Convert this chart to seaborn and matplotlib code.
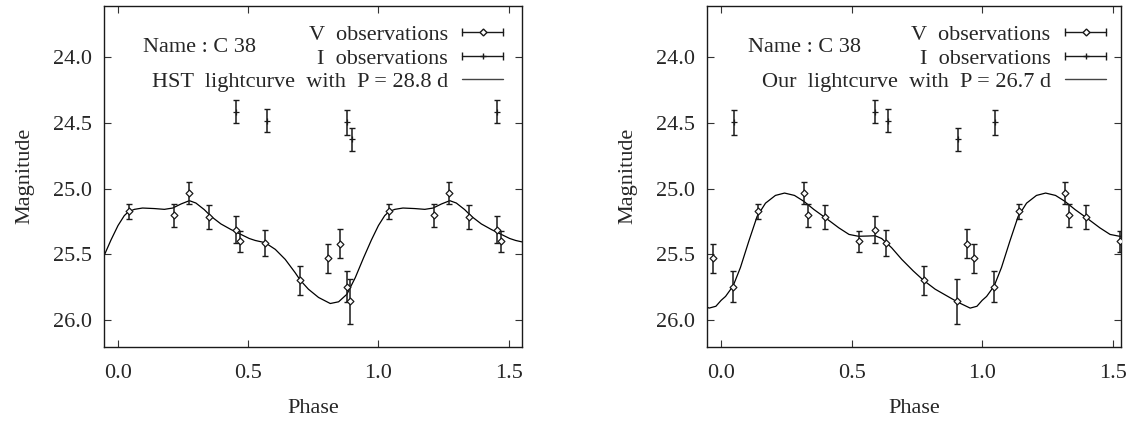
import numpy as np
import pandas as pd
import seaborn as sns
import matplotlib.pyplot as plt
from matplotlib.lines import Line2D
from matplotlib.legend_handler import HandlerLine2D, HandlerTuple

# V band observations (same magnitudes folded with two periods)
v_mag = [25.172, 25.202, 25.033, 25.217, 25.311, 25.399, 25.412, 25.697, 25.530, 25.420, 25.747, 25.858]
v_err = [0.058, 0.088, 0.081, 0.090, 0.100, 0.080, 0.100, 0.110, 0.110, 0.110, 0.117, 0.170]
v_phase_hst = [0.041, 0.213, 0.271, 0.348, 0.454, 0.469, 0.565, 0.697, 0.808, 0.853, 0.879, 0.891]
v_phase_our = [0.143, 0.331, 0.316, 0.399, 0.591, 0.528, 0.632, 0.776, 0.970, 0.943, 0.045, 0.904]

# I band observations
i_mag = [24.414, 24.482, 24.495, 24.624]
i_err = [0.088, 0.088, 0.097, 0.088]
i_phase_hst = [0.454, 0.572, 0.881, 0.898]
i_phase_our = [0.591, 0.638, 0.051, 0.908]

# model lightcurves, one cycle each
hst_curve_phase = [0.000, 0.024, 0.040, 0.063, 0.094, 0.139, 0.178, 0.210, 0.242, 0.274, 0.299,
                   0.331, 0.357, 0.395, 0.434, 0.472, 0.504, 0.527, 0.565, 0.604, 0.642, 0.680,
                   0.700, 0.731, 0.770, 0.815, 0.847, 0.879, 0.911, 0.943, 0.973, 1.000]
hst_curve_mag = [25.280, 25.205, 25.175, 25.157, 25.147, 25.151, 25.157, 25.147, 25.116, 25.091, 25.109,
                 25.159, 25.210, 25.268, 25.311, 25.348, 25.379, 25.394, 25.411, 25.462, 25.538, 25.639,
                 25.697, 25.765, 25.828, 25.874, 25.861, 25.803, 25.677, 25.525, 25.390, 25.280]
our_curve_phase = [0.000, 0.017, 0.046, 0.074, 0.106, 0.138, 0.170, 0.208, 0.243, 0.281, 0.317,
                   0.356, 0.400, 0.451, 0.490, 0.526, 0.564, 0.590, 0.615, 0.653, 0.692, 0.736,
                   0.775, 0.820, 0.871, 0.909, 0.954, 0.980, 1.000]
our_curve_mag = [25.850, 25.820, 25.740, 25.600, 25.400, 25.210, 25.110, 25.051, 25.033, 25.051, 25.096,
                 25.159, 25.222, 25.298, 25.348, 25.362, 25.360, 25.358, 25.379, 25.449, 25.538, 25.626,
                 25.697, 25.765, 25.823, 25.866, 25.909, 25.895, 25.850]

panels = [
    dict(v_phase=v_phase_hst, i_phase=i_phase_hst, cph=hst_curve_phase, cmag=hst_curve_mag,
         label="HST  lightcurve  with  P = 28.8 d", xlim=(-0.052, 1.553),
         pos=[0.0928, 0.1842, 0.3712, 0.8028], name_x=0.093, leg_x=0.954),
    dict(v_phase=v_phase_our, i_phase=i_phase_our, cph=our_curve_phase, cmag=our_curve_mag,
         label="Our  lightcurve  with  P = 26.7 d", xlim=(-0.054, 1.532),
         pos=[0.6279, 0.1842, 0.3677, 0.8028], name_x=0.100, leg_x=0.964),
]

sns.set_theme(style="ticks")
plt.rcParams['font.family'] = ['Liberation Serif', 'DejaVu Serif']
plt.rcParams['font.size'] = 16


def fold(phase, mag, err, lo, hi):
    rows = []
    for s in (-1, 0, 1):
        for p, m, e in zip(phase, mag, err):
            if lo <= p + s <= hi:
                rows.append((p + s, m, e))
    return pd.DataFrame(rows, columns=["phase", "mag", "err"])


fig = plt.figure(figsize=(11.26, 4.25), dpi=100)

for pn in panels:
    ax = fig.add_axes(pn["pos"])
    lo, hi = pn["xlim"]

    curve = pd.DataFrame({"phase": pn["cph"], "mag": pn["cmag"]})
    curve = pd.concat([curve.assign(phase=curve.phase + s) for s in (-1, 0, 1)])
    curve = curve.drop_duplicates("phase").sort_values("phase")
    sns.lineplot(data=curve, x="phase", y="mag", ax=ax, color="black", lw=0.9,
                 estimator=None, sort=True)

    vd = fold(pn["v_phase"], v_mag, v_err, lo, hi)
    idf = fold(pn["i_phase"], i_mag, i_err, lo, hi)
    for d in (vd, idf):
        ax.errorbar(d.phase, d.mag, yerr=d.err, fmt="none", ecolor="#1a1a1a",
                    elinewidth=1.1, capsize=2.4, capthick=1.0)
    sns.scatterplot(data=vd, x="phase", y="mag", ax=ax, marker="D", s=12,
                    facecolor="white", edgecolor="#1a1a1a", linewidth=0.9, zorder=5)
    sns.scatterplot(data=idf, x="phase", y="mag", ax=ax, marker="+", s=16,
                    color="#1a1a1a", linewidth=0.9, zorder=5)

    ax.set_xlim(lo, hi)
    ax.set_ylim(26.203, 23.605)
    ax.set_xticks([0.0, 0.5, 1.0, 1.5])
    ax.set_yticks([24.0, 24.5, 25.0, 25.5, 26.0])
    ax.set_xticklabels(["0.0", "0.5", "1.0", "1.5"])
    ax.set_yticklabels(["24.0", "24.5", "25.0", "25.5", "26.0"])
    ax.tick_params(direction="in", top=True, right=True, length=5, width=0.8,
                   labelsize=16, color="#333333")
    ax.tick_params(axis="y", pad=9)
    ax.tick_params(axis="x", pad=12.5)
    for sp in ax.spines.values():
        sp.set_linewidth(1.0)
        sp.set_color("#1a1a1a")

    ax.set_xlabel("Phase", fontsize=16)
    ax.set_ylabel("Magnitude", fontsize=16)
    ax.xaxis.set_label_coords(0.5, -0.153)
    ax.yaxis.set_label_coords(-0.168, 0.5)

    ax.text(pn["name_x"], 0.877, "Name : C 38", transform=ax.transAxes,
            fontsize=16, ha="left", va="center")

    caps_v = Line2D([], [], color="#1a1a1a", lw=1.0, marker="|", markersize=6)
    dot_v = Line2D([], [], ls="none", marker="D", markersize=3.5,
                   markerfacecolor="white", markeredgecolor="#1a1a1a")
    caps_i = Line2D([], [], color="#1a1a1a", lw=1.0, marker="|", markersize=6)
    dot_i = Line2D([], [], ls="none", marker="+", markersize=5, color="#1a1a1a")
    line_h = Line2D([], [], color="#444444", lw=1.0)
    ax.legend([(caps_v, dot_v), (caps_i, dot_i), line_h],
              ["V  observations", "I  observations", pn["label"]],
              handler_map={caps_v: HandlerLine2D(numpoints=2, marker_pad=0),
                           caps_i: HandlerLine2D(numpoints=2, marker_pad=0),
                           tuple: HandlerTuple(ndivide=1, pad=0)},
              loc="upper right", bbox_to_anchor=(pn["leg_x"], 0.945),
              frameon=False, markerfirst=False, borderpad=0, borderaxespad=0,
              labelspacing=0.14, handlelength=1.85, handletextpad=0.65,
              numpoints=1, fontsize=16)

fig.savefig("out.png", dpi=100)
